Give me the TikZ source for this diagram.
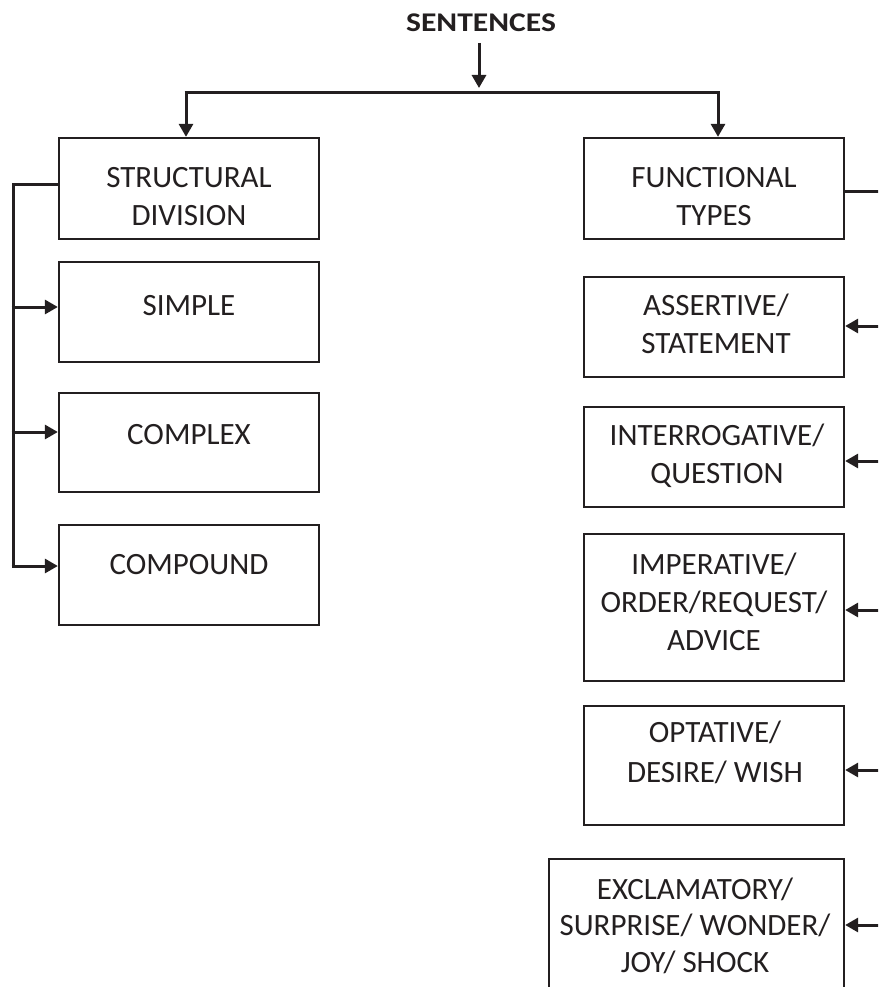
\documentclass[tikz,border=0pt]{standalone}
\usepackage{fontspec}
\setmainfont{Carlito}
\usetikzlibrary{arrows.meta}
\definecolor{ink}{HTML}{231F20}
\begin{document}
\begin{tikzpicture}[x=1pt,y=-1pt,
  box/.style={draw=ink, line width=2.3pt, inner sep=0pt},
  txt/.style={text=ink, align=center, inner sep=0pt, anchor=base,
              font=\fontsize{31}{38}\selectfont},
  link/.style={draw=ink, line width=3pt},
  arr/.style={link, -{Triangle[length=13pt,width=14pt]}}]
\useasboundingbox (0,0) rectangle (878,987);
\clip (0,0) rectangle (878,987);

% title
\node[text=ink, inner sep=0pt, anchor=base,
      font=\fontsize{27}{32}\bfseries] (sent) at (481,32) {\scalebox{1.17}[1]{SENTENCES}};

% boxes
\node[box, minimum width=260pt, minimum height=101pt] (struct)   at (189,188.5) {};
\node[box, minimum width=260pt, minimum height=101pt] (func)     at (714,188.5) {};
\node[box, minimum width=260pt, minimum height=100pt] (simple)   at (189,312) {};
\node[box, minimum width=260pt, minimum height=99pt]  (complex)  at (189,442.5) {};
\node[box, minimum width=260pt, minimum height=100pt] (compound) at (189,575) {};
\node[box, minimum width=260pt, minimum height=100pt] (assert)   at (714,327) {};
\node[box, minimum width=260pt, minimum height=100pt] (interr)   at (714,457) {};
\node[box, minimum width=260pt, minimum height=147pt] (imper)    at (714,607.5) {};
\node[box, minimum width=260pt, minimum height=119pt] (optat)    at (714,765.5) {};
\node[box, minimum width=295pt, minimum height=151pt] (exclam)   at (696.5,934.5) {};

% box texts (placed on the baseline of their last line)
\node[txt] (t-struct)   at (189,225) {STRUCTURAL\\DIVISION};
\node[txt] (t-func)     at (714,225) {FUNCTIONAL\\TYPES};
\node[txt] (t-simple)   at (189,315) {SIMPLE};
\node[txt] (t-complex)  at (189,444) {COMPLEX};
\node[txt] (t-compound) at (189,574) {COMPOUND};
\node[txt] (t-assert)   at (716,353) {ASSERTIVE/\\STATEMENT};
\node[txt] (t-interr)   at (717,483) {INTERROGATIVE/\\QUESTION};
\node[txt] (t-imper)    at (714,650) {IMPERATIVE/\\ORDER/REQUEST/\\ADVICE};
\node[txt, font=\fontsize{31}{40}\selectfont] (t-optat) at (715,782) {OPTATIVE/\\DESIRE/ WISH};
\node[txt, font=\fontsize{31}{36.5}\selectfont] (t-exclam) at (695,972) {EXCLAMATORY/\\SURPRISE/ WONDER/\\JOY/ SHOCK};

% top split
\coordinate (st) at (479,43);
\coordinate (sb) at (479,88);
\coordinate (jl) at (186,93);
\coordinate (jr) at (718,93);
\draw[arr] (st) -- (sb);
\draw[link] ([xshift=-1.5pt]jl) -- ([xshift=1.5pt]jr);
\draw[arr] (jl) -- (jl |- struct.north);
\draw[arr] (jr) -- (jr |- func.north);

% structural bus on the left
\coordinate (lb0) at (13,185);
\coordinate (lb1) at (13,307);
\coordinate (lb2) at (13,432);
\coordinate (lb3) at (13,566);
\draw[link] (struct.west |- lb0) -- (lb0) -- (lb3);
\draw[arr] ([xshift=-1.5pt]lb1) -- (lb1 -| simple.west);
\draw[arr] ([xshift=-1.5pt]lb2) -- (lb2 -| complex.west);
\draw[arr] ([xshift=-1.5pt]lb3) -- (lb3 -| compound.west);

% functional bus on the right
\coordinate (rb0) at (882,192);
\coordinate (rb1) at (882,326);
\coordinate (rb2) at (882,461);
\coordinate (rb3) at (882,610);
\coordinate (rb4) at (882,770);
\coordinate (rb5) at (882,925);
\draw[link] (func.east |- rb0) -- (rb0) -- (rb5);
\draw[arr] (rb1) -- (rb1 -| assert.east);
\draw[arr] (rb2) -- (rb2 -| interr.east);
\draw[arr] (rb3) -- (rb3 -| imper.east);
\draw[arr] (rb4) -- (rb4 -| optat.east);
\draw[arr] (rb5) -- (rb5 -| exclam.east);
\end{tikzpicture}
\end{document}
